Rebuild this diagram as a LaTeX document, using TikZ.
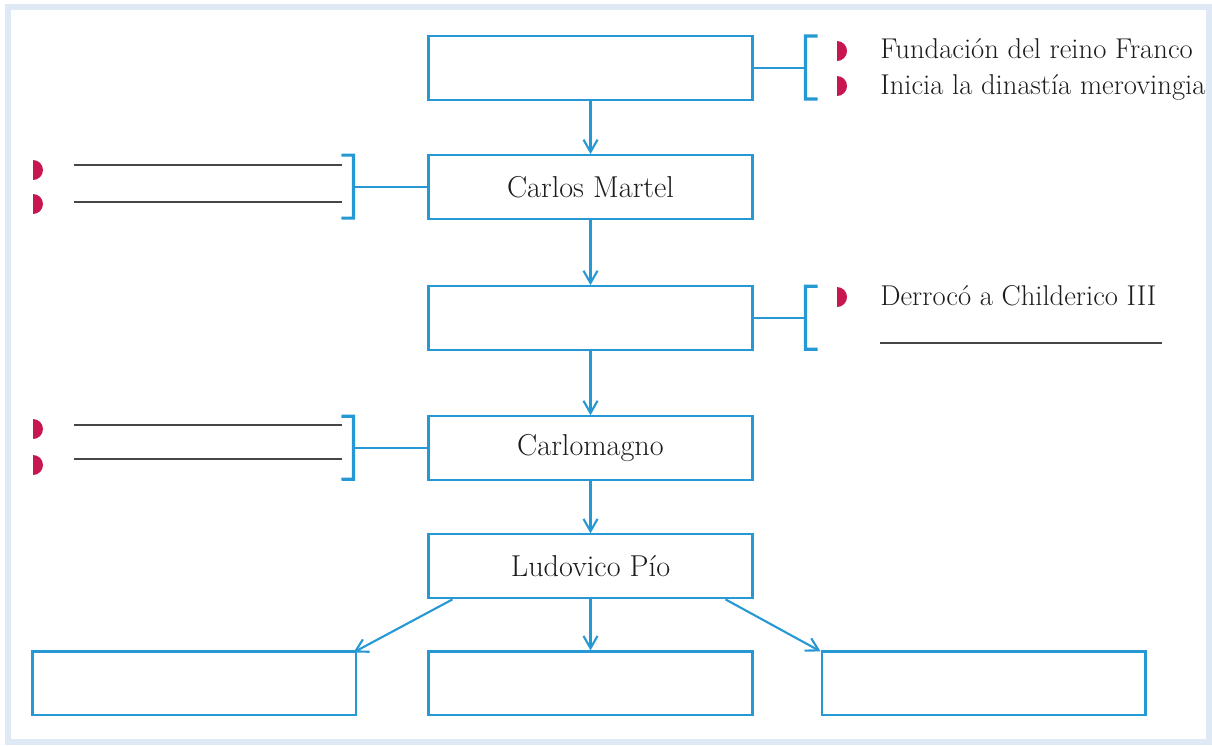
\documentclass[tikz,border=0pt]{standalone}
\usepackage{tikz}
\usetikzlibrary{arrows.meta, positioning}

\definecolor{boxblue}{RGB}{38,152,212}
\definecolor{bulletred}{RGB}{200,22,80}
\definecolor{framecol}{RGB}{222,233,245}
\definecolor{inkgray}{RGB}{30,27,28}
\definecolor{blankgray}{RGB}{70,70,70}

\newcommand{\halfdot}[2]{\fill[bulletred] (#1,#2-10) arc[start angle=90, end angle=-90, radius=0.2cm] -- cycle;}

\tikzset{
  box/.style={draw=boxblue, line width=1.2pt, minimum width=6.48cm, minimum height=1.28cm,
    inner sep=0pt, text=inkgray, font=\fontsize{17.2}{20}\selectfont},
  link/.style={draw=boxblue, line width=1.2pt, -{Straight Barb[length=7pt, width=8pt]}},
  tie/.style={draw=boxblue, line width=1.2pt},
  brack/.style={draw=boxblue, line width=1.8pt},
  blank/.style={draw=blankgray, line width=1.1pt},
  sidetext/.style={inner sep=0pt, anchor=base west, text=inkgray, font=\fontsize{16.3}{19}\selectfont}
}

\begin{document}
\begin{tikzpicture}[x=0.02cm, y=-0.02cm]
        \useasboundingbox (0,0) rectangle (1212,745);
        \draw[framecol, line width=0.12cm] (8,7) rectangle (1209,742);

        % chain of boxes
        \node[box] (b1) at (590.5,68) {};
        \node[box] (b2) [below=1.06cm of b1] {Carlos Martel};
        \node[box] (b3) [below=1.30cm of b2] {};
        \node[box] (b4) [below=1.28cm of b3] {Carlomagno};
        \node[box] (b5) [below=1.04cm of b4] {Ludovico Pío};
        \node[box] (bm) [below=1.02cm of b5] {};
        \node[box] (bl) [left=1.4cm of bm] {};
        \node[box] (br) [right=1.34cm of bm] {};

        \draw[link] (b1) -- (b2);
        \draw[link] (b2) -- (b3);
        \draw[link] (b3) -- (b4);
        \draw[link] (b4) -- (b5);
        \draw[link] (b5) -- (bm);
        \draw[link] ([xshift=0.5cm]b5.south west) -- ([xshift=-0.08cm,yshift=-0.04cm]bl.north east);
        \draw[link] ([xshift=-0.56cm]b5.south east) -- ([yshift=-0.02cm]bm.north west -| br.north west);

        % brackets
        \coordinate (k1) at ([xshift=1.04cm]b1.east);
        \coordinate (k2) at ([xshift=-1.48cm]b2.west);
        \coordinate (k3) at ([xshift=1.04cm]b3.east);
        \coordinate (k4) at ([xshift=-1.48cm]b4.west);
        \draw[tie] (b1.east) -- (k1);
        \draw[tie] (b2.west) -- (k2);
        \draw[tie] (b3.east) -- (k3);
        \draw[tie] (b4.west) -- (k4);
        \draw[brack] ([shift={(12,-32)}]k1) -- ([yshift=0.64cm]k1) -- ([yshift=-0.62cm]k1) -- ([shift={(12,31)}]k1);
        \draw[brack] ([shift={(-12,-32)}]k2) -- ([yshift=0.64cm]k2) -- ([yshift=-0.62cm]k2) -- ([shift={(-12,31)}]k2);
        \draw[brack] ([shift={(12,-32)}]k3) -- ([yshift=0.64cm]k3) -- ([yshift=-0.62cm]k3) -- ([shift={(12,31)}]k3);
        \draw[brack] ([shift={(-12,-32)}]k4) -- ([yshift=0.64cm]k4) -- ([yshift=-0.62cm]k4) -- ([shift={(-12,31)}]k4);

        % right side notes
        \halfdot{837}{51}
        \halfdot{837}{86}
        \halfdot{837}{297}
        \node[sidetext] (t1) at (880,58) {Fundación del reino Franco};
        \node[sidetext] (t2) at (880,94) {Inicia la dinastía merovingia};
        \node[sidetext] (t3) at (880,305) {Derrocó a Childerico III};
        \draw[blank] (880,343) -- (1162,343);

        % left side blanks
        \halfdot{33}{170}
        \halfdot{33}{204}
        \halfdot{33}{429}
        \halfdot{33}{465}
        \draw[blank] (74,165) -- (342,165);
        \draw[blank] (74,202) -- (342,202);
        \draw[blank] (74,425) -- (342,425);
        \draw[blank] (74,459) -- (342,459);
  \end{tikzpicture}
\end{document}
